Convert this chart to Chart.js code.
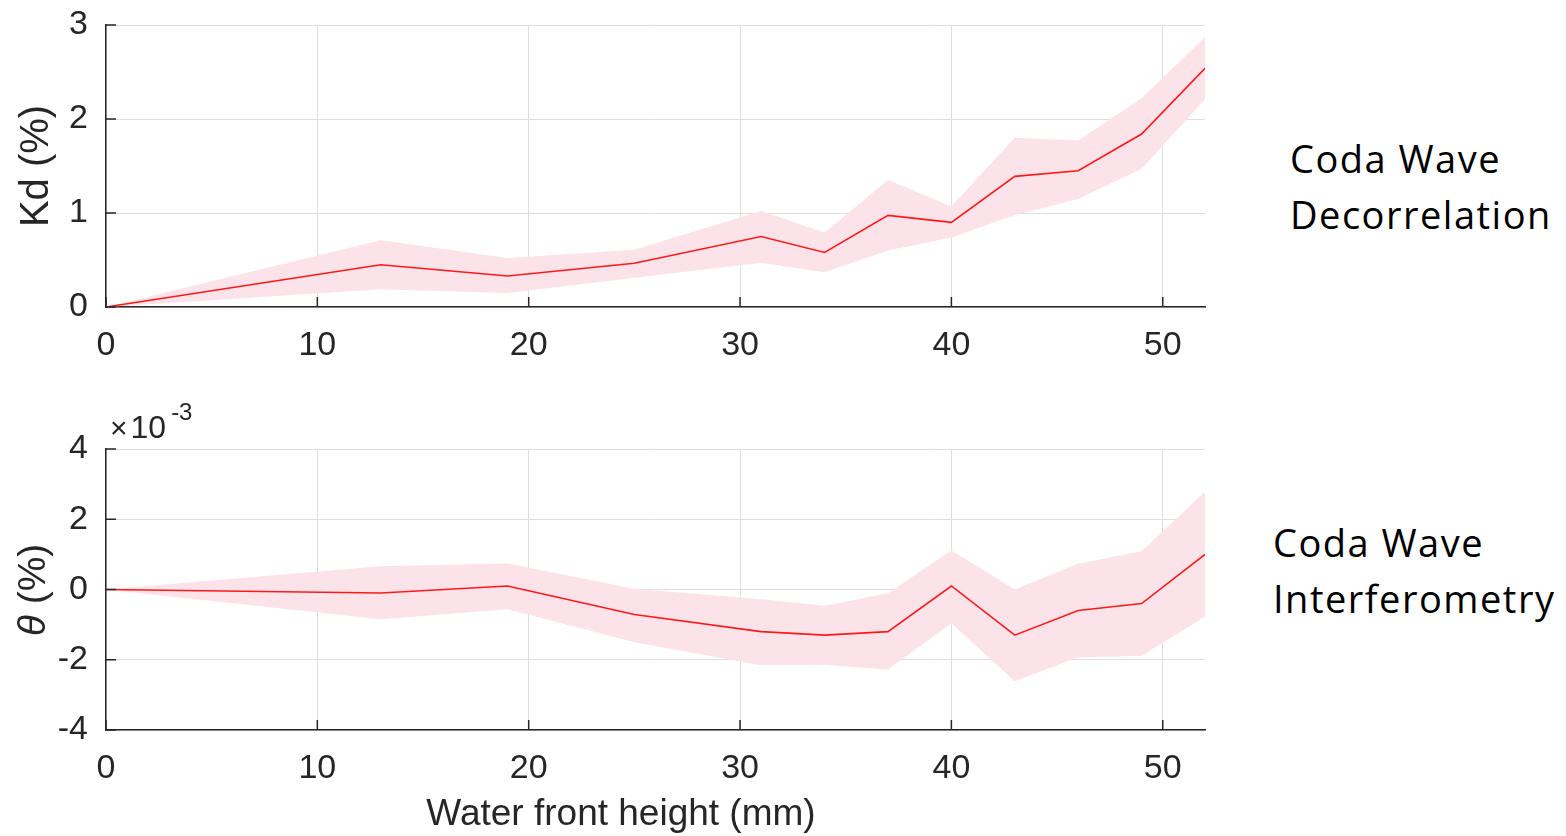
<!DOCTYPE html>
<html>
<head>
<meta charset="utf-8">
<script src="https://cdn.jsdelivr.net/npm/chart.js@4.4.1/dist/chart.umd.min.js"></script>
<style>
  body { margin: 0; background: #fff; width: 1566px; height: 836px; position: relative; overflow: hidden; }
  canvas { position: absolute; left: 0; }
  .side { position: absolute; font-family: "Open Sans", Lato, sans-serif; font-size: 38px; letter-spacing: 1.5px; line-height: 56px; color: #000; }
  .exp { position: absolute; left: 110px; top: 411px; font-family: "Liberation Sans", Arial, sans-serif; font-size: 32px; line-height: 1; color: #262626; white-space: nowrap; }
  .exp .per { font-size: 30px; margin-right: 3px; }
  .exp .pot { font-size: 24px; position: relative; top: -18px; margin-left: 5px; }
</style>
</head>
<body>
<canvas id="kd" width="1215" height="390" style="top:-20px"></canvas>
<canvas id="th" width="1215" height="456" style="top:380px"></canvas>
<div class="side" style="left:1290px; top:130px">Coda Wave<br>Decorrelation</div>
<div class="side" style="left:1273px; top:514px">Coda Wave<br>Interferometry</div>
<div class="exp"><span class="per">&times;</span>10<span class="pot">-3</span></div>
<script>
// hauteur du front d'eau (mm)
var xPos = [0, 13, 19, 25, 31, 34, 37, 40, 43, 46, 49, 52];
var xTicks = [0, 10, 20, 30, 40, 50];

// Kd (%)
var kdMean = [0, 0.45, 0.33, 0.465, 0.75, 0.58, 0.975, 0.90, 1.39, 1.45, 1.84, 2.54];
var kdUpper = [0, 0.71, 0.52, 0.61, 1.02, 0.79, 1.35, 1.07, 1.80, 1.77, 2.22, 2.87];
var kdLower = [0, 0.19, 0.15, 0.31, 0.47, 0.37, 0.60, 0.74, 0.98, 1.15, 1.47, 2.21];
var kdTicks = [0, 1, 2, 3];

// theta (%), en unites de 1e-3
var thMean = [0, -0.1, 0.1, -0.71, -1.2, -1.3, -1.2, 0.1, -1.3, -0.6, -0.4, 1.0];
var thUpper = [0, 0.66, 0.74, 0.02, -0.28, -0.46, -0.11, 1.11, 0.0, 0.73, 1.09, 2.78];
var thLower = [0, -0.85, -0.56, -1.5, -2.16, -2.14, -2.28, -0.96, -2.61, -1.93, -1.89, -0.77];
var thTicks = [-4, -2, 0, 2, 4];

var FONT = "'Liberation Sans', Arial, sans-serif";
var AXIS = '#262626';
var GRID = '#dedede';
var BAND = 'rgba(252, 226, 233, 1)';

function punti(ys) {
  return xPos.map(function(x, i) { return { x: x, y: ys[i] }; });
}

// tacche verso l'interno come in matlab
var tacche = {
  id: 'tacche',
  afterDraw: function(chart) {
    var ctx = chart.ctx, a = chart.chartArea;
    var sx = chart.scales.x, sy = chart.scales.y;
    ctx.save();
    ctx.strokeStyle = AXIS;
    ctx.lineWidth = 1.5;
    ctx.beginPath();
    sy.ticks.forEach(function(t) {
      var py = sy.getPixelForValue(t.value);
      ctx.moveTo(a.left, py); ctx.lineTo(a.left + 10, py);
    });
    sx.ticks.forEach(function(t) {
      var px = sx.getPixelForValue(t.value);
      ctx.moveTo(px, a.bottom); ctx.lineTo(px, a.bottom - 10);
    });
    ctx.stroke();
    ctx.restore();
  }
};

// titoli del grafico in basso: theta in corsivo e asse x
var titoli = {
  id: 'titoli',
  afterDraw: function(chart) {
    var ctx = chart.ctx;
    ctx.save();
    ctx.fillStyle = AXIS;
    ctx.textBaseline = 'middle';
    ctx.font = '37px ' + FONT;
    ctx.textAlign = 'center';
    ctx.fillText('Water front height (mm)', 621, 435);
    ctx.textAlign = 'left';
    ctx.translate(34, 210);
    ctx.rotate(-Math.PI / 2);
    ctx.font = 'italic 39px ' + FONT;
    var w1 = ctx.measureText('\u03b8').width;
    ctx.font = '39px ' + FONT;
    var w2 = ctx.measureText(' (%)').width;
    var x0 = -(w1 + w2) / 2;
    ctx.font = 'italic 39px ' + FONT;
    ctx.fillText('\u03b8', x0, 0);
    ctx.font = '39px ' + FONT;
    ctx.fillText(' (%)', x0 + w1, 0);
    ctx.restore();
  }
};

function creaGrafico(id, mean, upper, lower, yTicks, yTitle, pad, xHeight, extra) {
  var ctx = document.getElementById(id);
  return new Chart(ctx, {
    type: 'line',
    data: {
      datasets: [
        { data: punti(mean), order: 0, borderColor: '#ff1a1a', borderWidth: 1.6, pointRadius: 0, fill: false, tension: 0 },
        { data: punti(upper), order: 1, borderWidth: 0, pointRadius: 0, fill: false, backgroundColor: BAND },
        { data: punti(lower), order: 1, borderWidth: 0, pointRadius: 0, fill: '-1', backgroundColor: BAND }
      ]
    },
    options: {
      responsive: false,
      animation: false,
      layout: { padding: { top: pad, right: 10, left: 0, bottom: 0 } },
      plugins: { legend: { display: false }, tooltip: { enabled: false } },
      scales: {
        x: {
          type: 'linear',
          min: 0,
          max: 52,
          afterBuildTicks: function(s) { s.ticks = xTicks.map(function(v) { return { value: v }; }); },
          afterFit: function(s) { s.height = xHeight; },
          grid: { color: GRID, lineWidth: 1, drawTicks: false },
          border: { color: AXIS, width: 1.5 },
          ticks: { color: AXIS, font: { family: FONT, size: 34 }, padding: 18, maxRotation: 0 }
        },
        y: {
          min: yTicks[0],
          max: yTicks[yTicks.length - 1],
          afterBuildTicks: function(s) { s.ticks = yTicks.map(function(v) { return { value: v }; }); },
          afterFit: function(s) { s.width = 106; },
          grid: { color: GRID, lineWidth: 1, drawTicks: false },
          border: { color: AXIS, width: 1.5 },
          ticks: { color: AXIS, font: { family: FONT, size: 34 }, padding: 18 },
          title: { display: !!yTitle, text: yTitle, color: AXIS, font: { family: FONT, size: 40 }, padding: { top: 13, bottom: 0 } }
        }
      }
    },
    plugins: extra
  });
}

creaGrafico('kd', kdMean, kdUpper, kdLower, kdTicks, 'Kd (%)', 45, 63, [tacche]);
creaGrafico('th', thMean, thUpper, thLower, thTicks, '', 69, 106, [tacche, titoli]);
</script>
</body>
</html>
